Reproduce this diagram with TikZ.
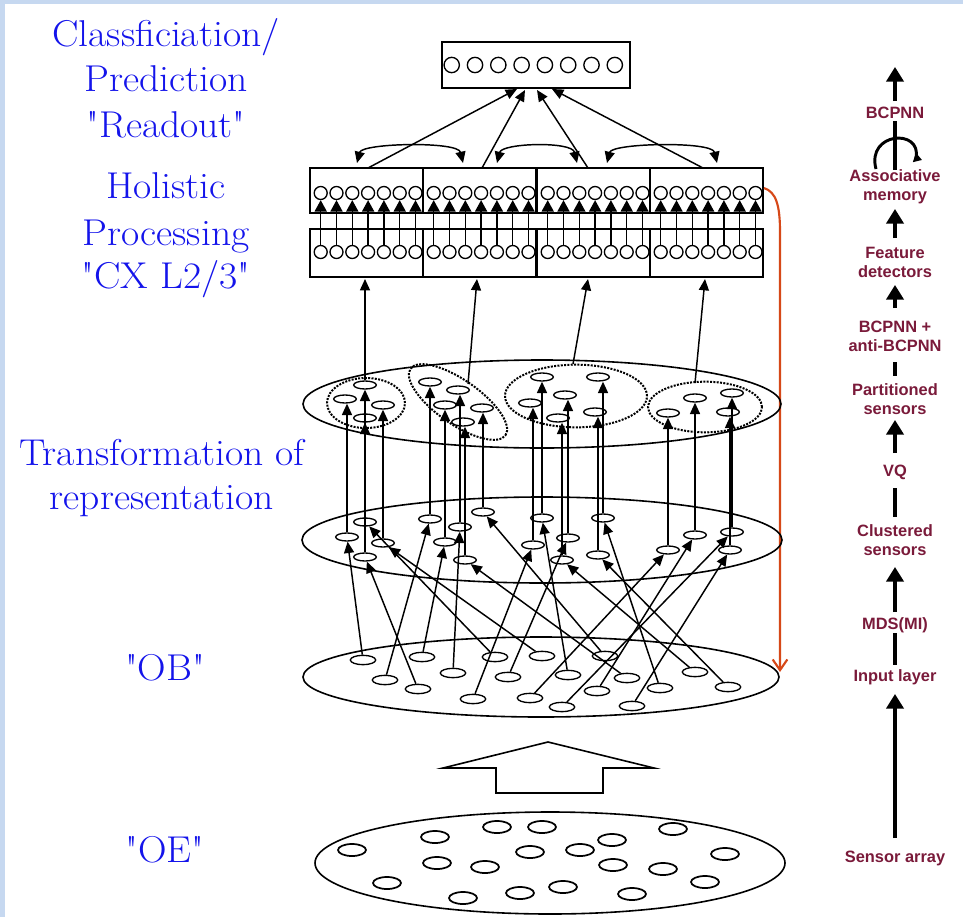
\documentclass[tikz,border=0pt]{standalone}
\usepackage{fontspec}
\newfontfamily\rfont{Liberation Sans}
\newfontfamily\lmq{Latin Modern Roman}[FakeStretch=1.06]
\usetikzlibrary{arrows.meta,shapes.geometric}
\definecolor{lblue}{RGB}{20,20,235}
\definecolor{maroon}{RGB}{122,26,58}
\definecolor{redarr}{RGB}{214,72,24}
\definecolor{framec}{RGB}{198,216,240}
\begin{document}
\begin{tikzpicture}[x=0.75pt,y=-0.75pt, line width=1.1pt,
  tip/.style={-{Triangle[length=8.5pt,width=7.5pt]}},
  celltip/.style={-{Triangle[length=8.5pt,width=9pt]}},
  nrn/.style={draw, ellipse, inner sep=0pt, minimum width=17pt, minimum height=6pt, line width=1pt},
  obn/.style={draw, ellipse, inner sep=0pt, minimum width=19pt, minimum height=7pt, line width=1pt},
  oen/.style={draw, ellipse, inner sep=0pt, minimum width=21pt, minimum height=9pt, line width=1.3pt},
  cell/.style={draw, circle, inner sep=0pt, minimum size=9.75pt, line width=1pt},
  rcell/.style={draw, circle, inner sep=0pt, minimum size=11.5pt, line width=1pt},
  clus/.style={draw, ellipse, densely dotted, line width=1.5pt, inner sep=0pt},
  lbl/.style={text=lblue, font=\lmq\fontsize{28}{32}\selectfont, anchor=base},
  rlbl/.style={text=maroon, font=\rfont\bfseries\fontsize{12.3}{14.3}\selectfont, align=center, inner sep=0pt},
  bigarr/.style={line width=2.3pt, -{Triangle[length=11pt,width=13pt]}},
  barline/.style={line width=2.3pt},
  dbl/.style={{Triangle[length=8.5pt,width=7.5pt]}-{Triangle[length=8.5pt,width=7.5pt]}}
]
\fill[framec] (0,0) rectangle (963,917);
\fill[white] (5,4) rectangle (963,917);
\useasboundingbox (0,0) rectangle (963,917);

% left labels
\node[lbl] (l1) at (166,47) {Classficiation/};
\node[lbl] (l2) at (166,92) {Prediction};
\node[lbl] (l3) at (166,137) {"Readout"};
\node[lbl] (l4) at (166,198) {Holistic};
\node[lbl] (l5) at (166,245) {Processing};
\node[lbl] (l6) at (166,288) {"CX L2/3"};
\node[lbl] (l7) at (162,465) {Transformation of};
\node[lbl] (l8) at (162,509) {representation};
\node[lbl] (l9) at (165,680) {"OB"};
\node[lbl] (l10) at (165,862) {"OE"};

% readout
\draw (442,42) rectangle (630,88);
\foreach \i in {0,...,7} \node[rcell] (r\i) at (451.7+23.3*\i,65) {};

% holistic boxes
\foreach \L [count=\j] in {310,423,537,650} {
  \draw (\L,168) rectangle ++(113,45);
  \draw (\L,229) rectangle ++(113,48);
  \foreach \k in {0,...,6} {
    \node[cell] (u\j-\k) at (\L+10.7+15.8*\k,193) {};
    \node[cell] (d\j-\k) at (\L+10.7+15.8*\k,252) {};
    \draw[celltip] (d\j-\k) -- (u\j-\k);
  }
}

% readout arrows
\coordinate (h1) at (368,168); \coordinate (e1) at (517,89);
\coordinate (h2) at (482,168); \coordinate (e2) at (525,90);
\coordinate (h3) at (588,168); \coordinate (e3) at (537,90);
\coordinate (h4) at (703,168); \coordinate (e4) at (552,89);
\foreach \i in {1,...,4} \draw[tip] (h\i) -- (e\i);

% lateral arcs
\coordinate (a1) at (357,163); \coordinate (a2) at (463,163);
\coordinate (a3) at (497,163); \coordinate (a4) at (577,163);
\coordinate (a5) at (607,163); \coordinate (a6) at (717,163);
\draw[dbl] (a1) .. controls (362,143) and (458,141) .. (a2);
\draw[dbl] (a3) .. controls (502,143) and (572,141) .. (a4);
\draw[dbl] (a5) .. controls (612,143) and (712,141) .. (a6);

% red feedback arrow
\coordinate (rs) at (764,188); \coordinate (re) at (780,672);
\draw[redarr, line width=1.6pt, -{Straight Barb[length=8pt,width=11pt]}] (rs) .. controls (776,192) and (780,205) .. (780,232) -- (re);

% layer ellipses
\draw[line width=1.2pt] (542,404) ellipse [x radius=239, y radius=44];
\draw[line width=1.2pt] (542,540) ellipse [x radius=240, y radius=43];
\draw[line width=1.2pt] (541,677) ellipse [x radius=238, y radius=40];
\draw[line width=1.2pt] (550,863) ellipse [x radius=235, y radius=51];

% clusters
\node[clus, minimum width=58.5pt, minimum height=37.5pt] (C1) at (366,403) {};
\node[clus, minimum width=87pt, minimum height=33pt, rotate=-35] (C2) at (458,402) {};
\node[clus, minimum width=106.5pt, minimum height=47pt] (C3) at (576,396) {};
\node[clus, minimum width=85.5pt, minimum height=38pt] (C4) at (705,407) {};

% top layer neurons
\foreach \n/\x/\y in {1/365/385,2/345/399,3/383/405,4/365/418,5/430/382,6/458/390,7/445/405,8/482/408,9/463/422,10/542/377,11/598/377,12/565/395,13/530/403,14/595/412,15/558/418,16/695/398,17/732/393,18/668/413,19/728/412}
  \node[nrn] (T\n) at (\x,\y) {};
% middle layer neurons
\foreach \n/\x/\y in {1/365/522,2/347/537,3/383/543,4/365/557,5/430/519,6/460/527,7/445/542,8/483/512,9/465/560,10/542/518,11/603/518,12/568/538,13/533/545,14/598/555,15/562/560,16/695/535,17/732/532,18/668/550,19/730/550}
  \node[nrn] (M\n) at (\x,\y) {};
% OB neurons
\foreach \n/\x/\y in {1/363/660,2/422/657,3/495/657,4/542/656,5/605/656,6/385/680,7/453/673,8/508/677,9/568/675,10/627/678,11/695/672,12/418/689,13/473/699,14/530/698,15/597/691,16/660/688,17/728/687,18/562/707,19/632/706}
  \node[obn] (O\n) at (\x,\y) {};
% OE neurons
\foreach \n/\x/\y in {1/352/850,2/435/837,3/497/827,4/542/827,5/673/829,6/612/840,7/530/852,8/580/850,9/725/854,10/437/863,11/485/867,12/613/865,13/663/869,14/387/883,15/705/882,16/563/887,17/520/893,18/463/898,19/632/894}
  \node[oen] (E\n) at (\x,\y) {};

% mid -> top vertical arrows
\foreach \n in {1,...,19} \draw[tip] (M\n.north) -- (M\n.north |- T\n.south);

% OB -> mid arrows
\foreach \a/\b in {1/2,2/7,3/1,4/3,5/8,6/5,7/6,8/12,9/10,10/9,11/15,12/4,13/13,14/18,15/16,16/11,17/14,18/17,19/19}
  \draw[tip] (O\a) -- (M\b);

% top layer -> holistic
\coordinate (hb1) at (365,279); \coordinate (hb2) at (477,279);
\coordinate (hb3) at (588,279); \coordinate (hb4) at (705,279);
\coordinate (c2t) at (468,384); \coordinate (c3t) at (573,364); \coordinate (c4t) at (695,383);
\draw[tip] (T1.north) -- (hb1);
\draw[tip] (c2t) -- (hb2);
\draw[tip] (c3t) -- (hb3);
\draw[tip] (c4t) -- (hb4);

% OE -> OB hollow arrow
\draw[line width=1.2pt, line join=miter] (443,768) -- (548,742) -- (654,768) -- (603,768) -- (603,793) -- (496,793) -- (496,768) -- cycle;

% right column
\node[rlbl] (s1) at (895,113) {BCPNN};
\node[rlbl] (s2) at (895,187) {Associative\\memory};
\node[rlbl] (s3) at (895,262) {Feature\\detectors};
\node[rlbl] (s4) at (895,336) {BCPNN +\\anti-BCPNN};
\node[rlbl] (s5) at (895,399) {Partitioned\\sensors};
\node[rlbl] (s6) at (895,472) {VQ};
\node[rlbl] (s7) at (895,540) {Clustered\\sensors};
\node[rlbl] (s8) at (895,625) {MDS(MI)};
\node[rlbl] (s9) at (895,677) {Input layer};
\node[rlbl] (s10) at (895,858) {Sensor array};

\coordinate (p1) at (895,101); \coordinate (q1) at (895,67);
\coordinate (p2) at (895,238); \coordinate (q2) at (895,209);
\coordinate (p3) at (895,308); \coordinate (q3) at (895,285);
\coordinate (p4) at (895,453); \coordinate (q4) at (895,420);
\coordinate (p5) at (895,612); \coordinate (q5) at (895,567);
\coordinate (p6) at (895,838); \coordinate (q6) at (895,694);
\foreach \i in {1,...,6} \draw[bigarr] (p\i) -- (q\i);
\coordinate (b1) at (895,362); \coordinate (b2) at (895,376);
\coordinate (b3) at (895,488); \coordinate (b4) at (895,517);
\coordinate (b5) at (895,633); \coordinate (b6) at (895,665);
\draw[barline] (b1) -- (b2);
\draw[barline] (b3) -- (b4);
\draw[barline] (b5) -- (b6);
% loop symbol
\coordinate (v1) at (895,121); \coordinate (v2) at (895,170);
\draw[barline] (v1) -- (v2);
\coordinate (lp1) at (876,169); \coordinate (lp2) at (922,160);
\draw[line width=2.2pt, -{Triangle[length=6pt,width=7pt]}] (lp1) .. controls (866,132) and (922,128) .. (916,158) -- (lp2);
\end{tikzpicture}
\end{document}
